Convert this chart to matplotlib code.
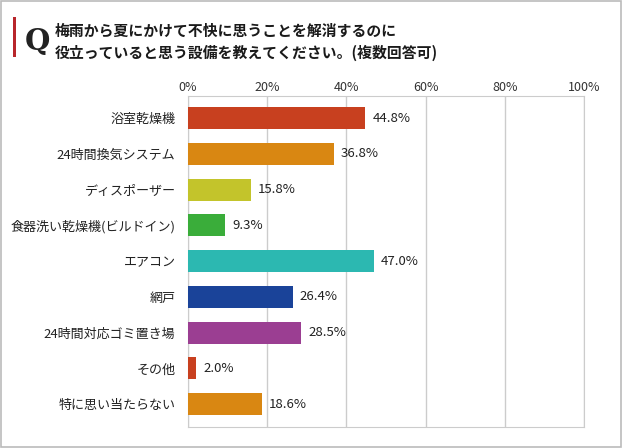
import matplotlib
matplotlib.use("Agg")
import matplotlib.pyplot as plt
from matplotlib.patches import Rectangle

plt.rcParams['font.family'] = ['Noto Sans CJK JP', 'DejaVu Sans']

# データ
categories = ['浴室乾燥機', '24時間換気システム', 'ディスポーザー', '食器洗い乾燥機(ビルドイン)',
              'エアコン', '網戸', '24時間対応ゴミ置き場', 'その他', '特に思い当たらない']
values = [44.8, 36.8, 15.8, 9.3, 47.0, 26.4, 28.5, 2.0, 18.6]
colors = ['#C8401F', '#D98712', '#C3C42B', '#3AAD3A', '#2CB8B1', '#1A4399', '#9B3E92', '#C8401F', '#D98712']
ticks = [0, 20, 40, 60, 80, 100]
title = '梅雨から夏にかけて不快に思うことを解消するのに\n役立っていると思う設備を教えてください。(複数回答可)'

fig = plt.figure(figsize=(6.23, 4.48), dpi=100)

# 外枠
fig.patches.append(Rectangle((0.002, 0.002), 0.995, 0.995, transform=fig.transFigure,
                             fill=False, edgecolor='#bbbbbb', linewidth=1.2))
# 赤い縦線とQ
fig.patches.append(Rectangle((13 / 623, 1 - 57 / 448), 3 / 623, 40 / 448, transform=fig.transFigure,
                             facecolor='#B8262B', edgecolor='none'))
fig.text(25 / 623, 1 - 50 / 448, 'Q', family='DejaVu Serif', fontsize=21, fontweight='bold',
         color='#222222', va='baseline')
fig.text(55 / 623, 1 - 42 / 448, title, fontsize=10.7, fontweight='bold', color='#1a1a1a',
         va='center', linespacing=1.5)

ax = fig.add_axes([188 / 623, 1 - 427 / 448, 396 / 623, 331 / 448])
y = list(range(len(categories)))
ax.barh(y, values, height=0.615, color=colors, zorder=3)
ax.set_xlim(0, 100)
ax.set_ylim(8.64, -0.62)
ax.set_xticks(ticks)
ax.set_xticklabels([f'{t}%' for t in ticks], fontsize=9, color='#333333')
ax.xaxis.tick_top()
ax.tick_params(axis='x', length=0, pad=1.5)
ax.set_yticks(y)
ax.set_yticklabels(categories, fontsize=9.4, color='#222222')
ax.tick_params(axis='y', length=0, pad=9)
ax.grid(axis='x', color='#cccccc', linewidth=1, zorder=0)
for s in ax.spines.values():
    s.set_color('#cccccc')

for yi, v in zip(y, values):
    ax.text(v + 1.8, yi, f'{v:.1f}%', va='center', ha='left', fontsize=9.5, color='#222222', zorder=4)

fig.savefig('out.png', dpi=100)
